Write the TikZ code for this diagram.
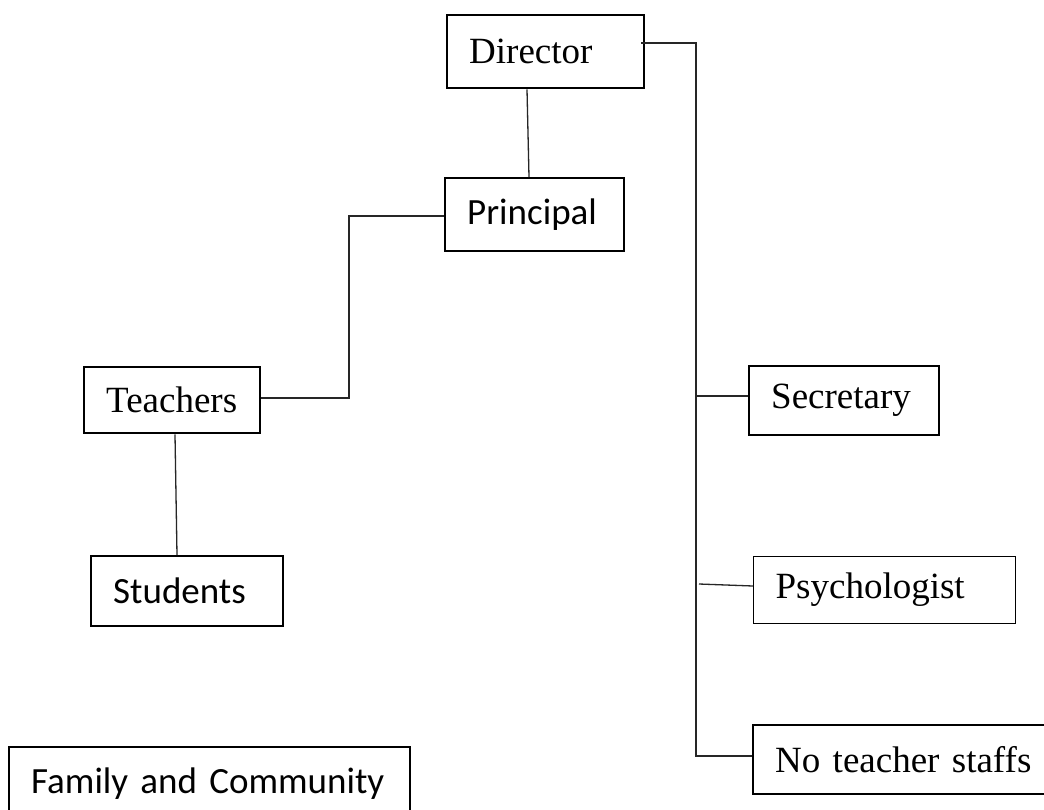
\documentclass[tikz,border=0pt]{standalone}
\usepackage{fontspec}
\setmainfont{Liberation Serif}
\newfontfamily\carlito{Carlito}
\usetikzlibrary{calc}
\begin{document}
\begin{tikzpicture}[x=1pt,y=-1pt,
  unit/.style={draw, line width=2.4pt, anchor=north west, inner xsep=22pt,
    inner ysep=0pt, align=left, font=\fontsize{37}{44}\selectfont},
  serifbox/.style={unit},
  sansbox/.style={unit, font=\carlito\fontsize{37}{44}\selectfont},
  link/.style={line width=1.3pt, draw=black!85}]
\clip (0,0) rectangle (1044,809);
\fill[white] (0,0) rectangle (1044,809);

% boxes
\node[serifbox, minimum width=197pt, minimum height=73pt, text width=153pt] (dir) at (446,14) {Director};
\node[sansbox, minimum width=179pt, minimum height=73pt, text width=135pt] (pri) at (444,177) {Principal};
\node[serifbox, minimum width=176pt, minimum height=66pt, text width=132pt] (tea) at (83,366) {Teachers};
\node[sansbox, minimum width=192pt, minimum height=70pt, text width=148pt] (stu) at (90,555) {Students};
\node[serifbox, minimum width=190pt, minimum height=69pt, text width=146pt] (sec) at (748,365) {Secretary};
\node[serifbox, line width=1.2pt, minimum width=262pt, minimum height=67pt, text width=218pt] (psy) at (753,556) {Psychologist};
\node[serifbox, minimum width=344pt, minimum height=69pt, text width=300pt] (nts) at (752,724) {No teacher staffs};
\node[sansbox, minimum width=401pt, minimum height=73pt, text width=357pt] (fam) at (8,746) {Family and Community};

% vertical bus on the right
\coordinate (bustop) at (696,43);
\coordinate (busend) at (696,756);
\coordinate (psyfoot) at (699,584);

% connectors
\draw[link] ($(dir.south west)+(81,0)$) -- ($(pri.north west)+(85,0)$);
\draw[link] ($(dir.north east)+(-4,29)$) -- (bustop) -- (busend) -- ($(nts.north west)+(0,32)$);
\draw[link] (bustop |- {$(sec.north west)+(0,31)$}) -- ($(sec.north west)+(0,31)$);
\draw[link] (psyfoot) -- ($(psy.north west)+(0,30)$);
\draw[link] ($(pri.north west)+(0,39)$) -- ++(-95,0) |- ($(tea.north east)+(0,32)$);
\draw[link] ($(tea.south west)+(92,0)$) -- ($(stu.north west)+(87,0)$);
\end{tikzpicture}
\end{document}
